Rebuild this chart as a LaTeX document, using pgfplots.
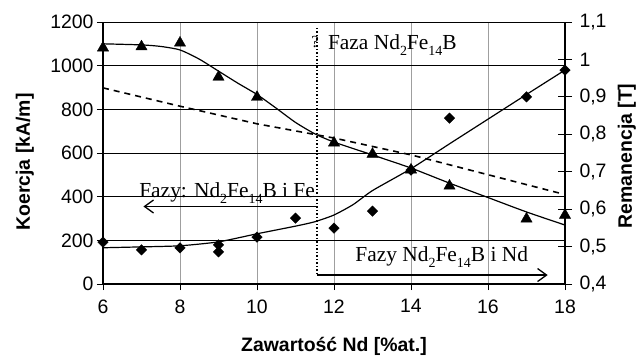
\documentclass[border=0pt]{standalone}
\usepackage{pgfplots}
\pgfplotsset{compat=1.18}
\usepackage{fontspec}
\setmainfont{Liberation Sans}
\newfontfamily\tnr{Liberation Serif}
\usetikzlibrary{arrows.meta}
\newcommand\sub[1]{\raisebox{-0.28em}{\fontsize{14}{14}\selectfont #1}}
\newcommand\ann{\tnr\fontsize{21.5}{21.5}\selectfont}
\begin{document}
\begin{tikzpicture}
\begin{axis}[
 scale only axis, width=462bp, height=262bp,
 xmin=6, xmax=18, ymin=0, ymax=1200,
 xtick={6,8,...,18}, ytick={0,200,...,1200},
 axis x line*=bottom, axis y line*=left,
 axis line style={-, line width=1.3bp},
 xmajorgrids, ymajorgrids,
 x grid style={gray!75, line width=0.8bp},
 y grid style={black, line width=0.6bp},
 tick style={black, line width=0.8bp}, major tick length=6bp,
 tick align=outside,
 tick label style={font=\fontsize{19.5}{19.5}\selectfont},
 xticklabel style={yshift=-6bp},
 /pgf/number format/assume math mode=true,
 /pgf/number format/1000 sep={},
 xlabel={Zawartość Nd [\%at.]}, ylabel={Koercja [kA/m]},
 label style={font=\fontsize{19.5}{19.5}\selectfont\bfseries},
 xlabel style={at={(rel axis cs:0.5,-0.237)}, anchor=center},
 ylabel style={at={(rel axis cs:-0.169,0.466)}, anchor=center},
 clip=false,
]
% coercivity (diamonds)
\addplot[only marks, mark=square*, mark size=3.7bp, mark options={rotate=45, fill=black, draw=black}] coordinates {
 (6,192)(7,156)(8,165)(9,179)(9,147)(10,215)(11,302)(12,256)(13,334)(14,522)(15,760)(17,857)(18,980)};
\addplot[black, line width=1.2bp, smooth, tension=0.35, mark=none] coordinates {
 (6,166)(7,170)(8,175)(9,193)(10,230)(11,265)(11.5,285)(12,316)(12.5,364)(13,428)(14,528)(15,642)(16,755)(17,868)(18,980)};
% annotations
\draw[black, line width=1.7bp, dash pattern=on 1.6bp off 1.9bp] (axis cs:11.55,1173) -- (axis cs:11.55,35);
\draw[black, line width=1.5bp, -{Straight Barb[length=9bp, width=13bp, line width=1.3bp]}] (axis cs:11.55,355) -- (axis cs:7.05,355);
\draw[black, line width=1.5bp, -{Straight Barb[length=9bp, width=13bp, line width=1.3bp]}] (axis cs:11.55,41) -- (axis cs:17.55,41);
\node[inner sep=0, anchor=center, font=\tnr\fontsize{17}{17}\selectfont] at (axis cs:11.51,1108) {?};
\node[inner sep=0, anchor=base west, font=\ann] at (axis cs:11.84,1072) {Faza Nd\sub{2}Fe\sub{14}B};
\node[inner sep=0, anchor=base east, font=\ann] at (axis cs:11.51,398) {Fazy: Nd\sub{2}Fe\sub{14}B i Fe};
\node[inner sep=0, anchor=base west, font=\ann] at (axis cs:12.55,101) {Fazy Nd\sub{2}Fe\sub{14}B i Nd};
\coordinate (bl) at (rel axis cs:-0.22294,-0.28244);
\coordinate (tr) at (rel axis cs:1.16883,1.08397);
\end{axis}
\begin{axis}[
 scale only axis, width=462bp, height=262bp,
 xmin=6, xmax=18, ymin=0.4, ymax=1.1,
 axis x line=none, axis y line*=right,
 axis line style={-, line width=1.3bp},
 ytick={0.4,0.5,0.6,0.7,0.8,0.9,1.0,1.1},
 yticklabels={{0,4},{0,5},{0,6},{0,7},{0,8},{0,9},{1},{1,1}},
 tick style={black, line width=0.8bp}, major tick length=14bp,
 tick align=center,
 tick label style={font=\fontsize{19.5}{19.5}\selectfont},
 yticklabel style={xshift=4bp},
 ylabel={Remanencja [T]},
 label style={font=\fontsize{19.5}{19.5}\selectfont\bfseries},
 ylabel style={at={(rel axis cs:1.134,0.489)}, anchor=center},
 clip=false,
]
% remanence (triangles)
\addplot[only marks, mark=triangle*, mark size=6.5bp, mark options={fill=black, draw=black}] coordinates {
 (6,1.031)(7,1.034)(8,1.044)(9,0.953)(10,0.899)(12,0.777)(13,0.747)(14,0.705)(15,0.662)(17,0.574)(18,0.584)};
\addplot[black, line width=1.2bp, smooth, tension=0.4, mark=none] coordinates {
 (6,1.0417)(7,1.0388)(7.5,1.0347)(8,1.0253)(8.5,1.0008)(9,0.9688)(9.5,0.9367)(10,0.9063)(10.5,0.8696)(11,0.8317)(11.5,0.8013)(12,0.7792)(13,0.7448)(14,0.7098)(15,0.6695)(16,0.631)(17,0.5925)(18,0.5575)};
\addplot[black, line width=1.6bp, dash pattern=on 6bp off 5bp, mark=none] coordinates {
 (6,0.924)(8,0.875)(10,0.828)(12,0.790)(14,0.745)(16,0.692)(17.85,0.643)};
\end{axis}
\pgfresetboundingbox
\path (bl) rectangle (tr);
\end{tikzpicture}
\end{document}
